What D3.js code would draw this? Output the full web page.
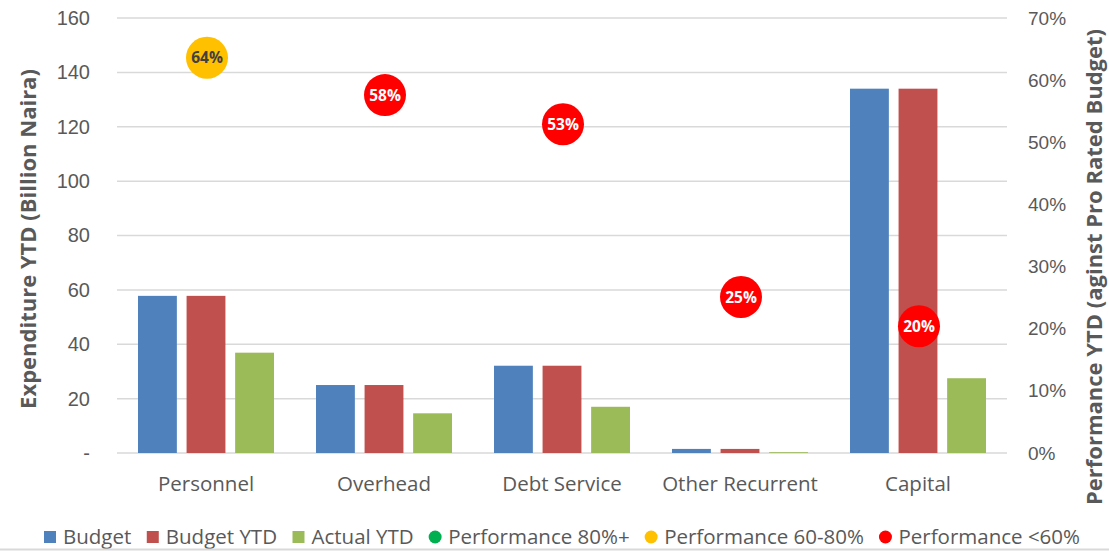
<!DOCTYPE html>
<html>
<head>
<meta charset="utf-8">
<script src="https://cdn.jsdelivr.net/npm/d3@7"></script>
<style>
  body { margin: 0; background: #fff; }
  svg { font-family: "Open Sans", sans-serif; }
</style>
</head>
<body>
<div id="chart"></div>
<script>
// chart data
var categories = ["Personnel", "Overhead", "Debt Service", "Other Recurrent", "Capital"];
var budget     = [57.8, 25.0, 32.1, 1.5, 134.0];
var budgetYtd  = [57.8, 25.0, 32.1, 1.5, 134.0];
var actualYtd  = [36.9, 14.6, 17.0, 0.3, 27.5];
var performance = [0.636, 0.576, 0.529, 0.251, 0.204];
var leftTicks = [0, 20, 40, 60, 80, 100, 120, 140, 160];
var rightTicks = [0, 0.1, 0.2, 0.3, 0.4, 0.5, 0.6, 0.7];

var seriesNames = ["Budget", "Budget YTD", "Actual YTD"];
var seriesColors = ["#4f81bd", "#c0504d", "#9bbb59"];

function perfColor(p) {
    if (p >= 0.8) return "#00b050";
    if (p >= 0.6) return "#ffc000";
    return "#ff0000";
}

var width = 1109, height = 551;
var margin = {top: 18, right: 102, bottom: 98, left: 117};

var svg = d3.select("#chart")
    .append("svg")
    .attr("width", width)
    .attr("height", height);

var x = d3.scaleBand()
    .domain(categories)
    .range([margin.left, width - margin.right]);

var x1 = d3.scaleBand()
    .domain(seriesNames)
    .range([21, x.bandwidth() - 21])
    .paddingInner(0.2);

var y = d3.scaleLinear()
    .domain([0, 160])
    .range([height - margin.bottom, margin.top]);

var y2 = d3.scaleLinear()
    .domain([0, 0.7])
    .range([height - margin.bottom, margin.top]);

//gridlines
svg.append("g")
    .selectAll("line")
    .data(leftTicks)
    .enter()
    .append("line")
    .attr("x1", margin.left)
    .attr("x2", width - margin.right)
    .attr("y1", function(d) { return y(d); })
    .attr("y2", function(d) { return y(d); })
    .style("stroke", "#d9d9d9")
    .style("stroke-width", 1.5);

// left axis
var leftAxis = svg.append("g")
    .attr("transform", "translate(" + margin.left + ",0)")
    .call(d3.axisLeft(y).tickValues(leftTicks).tickSize(0).tickPadding(27)
        .tickFormat(function(d) { return d === 0 ? "-" : d; }));
leftAxis.select(".domain").remove();
leftAxis.selectAll("text")
    .style("font-size", "20px")
    .style("fill", "#595959");

// right axis
var rightAxis = svg.append("g")
    .attr("transform", "translate(" + (width - margin.right) + ",0)")
    .call(d3.axisRight(y2).tickValues(rightTicks).tickSize(0).tickPadding(21)
        .tickFormat(d3.format(".0%")));
rightAxis.select(".domain").remove();
rightAxis.selectAll("text")
    .style("font-size", "19px")
    .style("fill", "#595959");

// bars
var barData = [budget, budgetYtd, actualYtd];
var groups = svg.append("g")
    .selectAll("g")
    .data(categories)
    .enter()
    .append("g")
    .attr("transform", function(d) { return "translate(" + x(d) + ",0)"; });

groups.selectAll("rect")
    .data(function(d, i) {
        return seriesNames.map(function(s, j) {
            return {series: s, value: barData[j][i], color: seriesColors[j]};
        });
    })
    .enter()
    .append("rect")
    .attr("x", function(d) { return x1(d.series); })
    .attr("width", x1.bandwidth())
    .attr("y", function(d) { return y(d.value); })
    .attr("height", function(d) { return y(0) - y(d.value); })
    .style("fill", function(d) { return d.color; });

// x labels
svg.append("g")
    .selectAll("text")
    .data(categories)
    .enter()
    .append("text")
    .attr("x", function(d) { return x(d) + x.bandwidth() / 2; })
    .attr("y", 491)
    .attr("text-anchor", "middle")
    .style("font-size", "20.5px")
    .style("fill", "#595959")
    .text(function(d) { return d; });

// performance bubbles
var bubbles = svg.append("g")
    .selectAll("g")
    .data(performance)
    .enter()
    .append("g")
    .attr("transform", function(d, i) {
        return "translate(" + (x(categories[i]) + x.bandwidth() / 2 + 1) + "," + y2(d) + ")";
    });

bubbles.append("circle")
    .attr("r", 21)
    .style("fill", function(d) { return perfColor(d); });

bubbles.append("text")
    .attr("text-anchor", "middle")
    .attr("dy", "0.36em")
    .style("font-size", "15.5px")
    .style("font-weight", "bold")
    .style("fill", function(d) { return d >= 0.6 ? "#404040" : "#fff"; })
    .text(function(d) { return Math.round(d * 100) + "%"; });

// axis titles
svg.append("text")
    .attr("transform", "translate(36,239) rotate(-90)")
    .attr("text-anchor", "middle")
    .style("font-size", "22px")
    .style("font-weight", "bold")
    .style("fill", "#595959")
    .text("Expenditure YTD (Billion Naira)");

svg.append("text")
    .attr("transform", "translate(1102,267) rotate(-90)")
    .attr("text-anchor", "middle")
    .style("font-size", "22px")
    .style("font-weight", "bold")
    .style("fill", "#595959")
    .text("Performance YTD (aginst Pro Rated Budget)");

// legend - laid out left to right, gaps spread so it spans 44..1080
var legendItems = [
    {name: "Budget", color: seriesColors[0], shape: "rect"},
    {name: "Budget YTD", color: seriesColors[1], shape: "rect"},
    {name: "Actual YTD", color: seriesColors[2], shape: "rect"},
    {name: "Performance 80%+", color: "#00b050", shape: "circle"},
    {name: "Performance 60-80%", color: "#ffc000", shape: "circle"},
    {name: "Performance <60%", color: "#ff0000", shape: "circle"}
];

var legend = svg.append("g")
    .selectAll("g")
    .data(legendItems)
    .enter()
    .append("g");

legend.filter(function(d) { return d.shape === "rect"; })
    .append("rect")
    .attr("x", 0).attr("y", -6)
    .attr("width", 12).attr("height", 12)
    .style("fill", function(d) { return d.color; });

legend.filter(function(d) { return d.shape === "circle"; })
    .append("circle")
    .attr("cx", 6).attr("cy", 0)
    .attr("r", 6.5)
    .style("fill", function(d) { return d.color; });

legend.append("text")
    .attr("x", 19)
    .attr("dy", "0.35em")
    .style("font-size", "20.5px")
    .style("fill", "#595959")
    .text(function(d) { return d.name; });

var itemWidths = [];
legend.select("text").each(function() { itemWidths.push(19 + this.getComputedTextLength()); });
var totalW = d3.sum(itemWidths);
var gap = (1080 - 44 - totalW) / (legendItems.length - 1);
var lx = 44;
legend.attr("transform", function(d, i) {
    var t = "translate(" + lx + ",537)";
    lx += itemWidths[i] + gap;
    return t;
});

// bottom border
svg.append("line")
    .attr("x1", 0).attr("x2", width)
    .attr("y1", 549.5).attr("y2", 549.5)
    .style("stroke", "#d9d9d9")
    .style("stroke-width", 2);
</script>
</body>
</html>
